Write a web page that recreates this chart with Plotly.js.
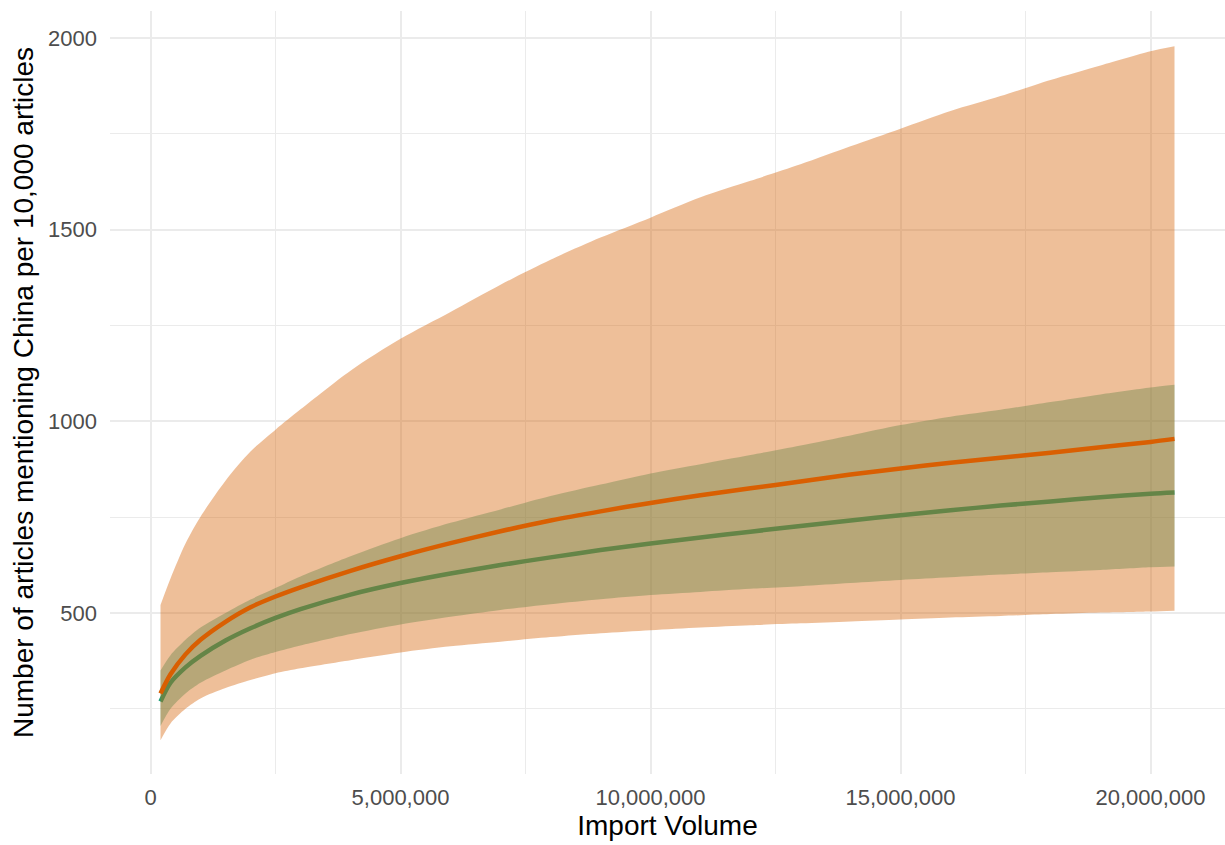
<!DOCTYPE html>
<html>
<head>
<meta charset="utf-8">
<script src="https://cdn.plot.ly/plotly-3.0.1.min.js"></script>
<style>html,body{margin:0;padding:0;background:#fff;}#chart{width:1225px;height:845px;}</style>
</head>
<body>
<div id="chart"></div>
<script>
// Import volume (x values, units)
const importVolume = [0.2e6, 0.4e6, 0.7e6, 1.0e6, 1.5e6, 2.0e6, 2.5e6, 3.0e6, 4.0e6, 5.0e6, 6.0e6, 7.0e6, 8.0e6, 9.0e6, 10.0e6, 11.0e6, 12.0e6, 13.0e6, 14.0e6, 15.0e6, 16.0e6, 17.0e6, 18.0e6, 19.0e6, 20.0e6, 20.48e6];

// Teal series (fit + interval)
const tealFit   = [269, 318, 358, 388, 428, 460, 487, 510, 548, 578, 603, 625, 645, 664, 681, 697, 712, 727, 741, 755, 768, 780, 791, 802, 811, 814];
const tealLower = [205, 250, 290, 318, 350, 378, 398, 415, 445, 470, 490, 508, 523, 536, 547, 555, 563, 570, 578, 586, 593, 600, 606, 612, 619, 621];
const tealUpper = [350, 390, 430, 462, 500, 535, 565, 595, 648, 695, 735, 770, 805, 835, 864, 888, 912, 937, 963, 990, 1012, 1030, 1050, 1070, 1088, 1095];

// Orange series (fit + interval)
const orangeFit   = [290, 340, 392, 430, 477, 515, 543, 567, 610, 648, 682, 713, 741, 765, 787, 807, 825, 843, 861, 877, 892, 905, 918, 932, 946, 954];
const orangeLower = [168, 212, 250, 277, 304, 325, 343, 356, 377, 397, 413, 425, 437, 447, 455, 462, 468, 473, 478, 483, 488, 492, 497, 501, 504, 506];
const orangeUpper = [521, 590, 681, 751, 845, 921, 978, 1031, 1132, 1215, 1285, 1356, 1421, 1479, 1531, 1584, 1627, 1670, 1717, 1763, 1809, 1848, 1890, 1928, 1965, 1978];

const xTitle = "Import Volume";
const yTitle = "Number of articles mentioning China per 10,000 articles";

const smooth = {shape: 'spline', smoothing: 0.8};

const traces = [
  {x: importVolume, y: tealLower, type: 'scatter', mode: 'lines',
   line: Object.assign({width: 0, color: 'rgba(0,0,0,0)'}, smooth), hoverinfo: 'skip', showlegend: false},
  {x: importVolume, y: tealUpper, type: 'scatter', mode: 'lines', fill: 'tonexty',
   fillcolor: 'rgba(27,158,119,0.4)', line: Object.assign({width: 0, color: 'rgba(0,0,0,0)'}, smooth), hoverinfo: 'skip', showlegend: false},
  {x: importVolume, y: tealFit, type: 'scatter', mode: 'lines',
   line: Object.assign({color: '#1B9E77', width: 4.5}, smooth), showlegend: false},
  {x: importVolume, y: orangeLower, type: 'scatter', mode: 'lines',
   line: Object.assign({width: 0, color: 'rgba(0,0,0,0)'}, smooth), hoverinfo: 'skip', showlegend: false},
  {x: importVolume, y: orangeUpper, type: 'scatter', mode: 'lines', fill: 'tonexty',
   fillcolor: 'rgba(213,94,0,0.4)', line: Object.assign({width: 0, color: 'rgba(0,0,0,0)'}, smooth), hoverinfo: 'skip', showlegend: false},
  {x: importVolume, y: orangeFit, type: 'scatter', mode: 'lines',
   line: Object.assign({color: '#D95F02', width: 4.5}, smooth), showlegend: false}
];

const fam = 'Liberation Sans, Arial, sans-serif';

const layout = {
  width: 1225, height: 845,
  margin: {l: 110, r: 0, t: 11, b: 71, pad: 0},
  paper_bgcolor: '#ffffff', plot_bgcolor: '#ffffff',
  font: {family: fam, size: 22, color: '#4D4D4D'},
  showlegend: false,
  xaxis: {
    range: [-0.81e6, 21.49e6],
    tick0: 0, dtick: 5e6, tickformat: ',d',
    showgrid: true, gridcolor: '#EBEBEB', gridwidth: 2,
    minor: {tick0: 0, dtick: 2.5e6, showgrid: true, gridcolor: '#EBEBEB', gridwidth: 1.2},
    zeroline: false, showline: false, ticks: '',
    tickfont: {family: fam, size: 22, color: '#4D4D4D'},
    ticklabelstandoff: 8,
    title: {text: xTitle, font: {family: fam, size: 28, color: '#000000'}, standoff: 6},
    automargin: false
  },
  yaxis: {
    range: [80, 2070],
    tick0: 0, dtick: 500,
    showgrid: true, gridcolor: '#EBEBEB', gridwidth: 2,
    minor: {tick0: 0, dtick: 250, showgrid: true, gridcolor: '#EBEBEB', gridwidth: 1.2},
    zeroline: false, showline: false, ticks: '',
    tickfont: {family: fam, size: 22, color: '#4D4D4D'},
    ticklabelstandoff: 12,
    title: {text: yTitle, font: {family: fam, size: 28, color: '#000000'}, standoff: 6},
    automargin: false
  }
};

Plotly.newPlot('chart', traces, layout, {displayModeBar: false, staticPlot: true});
</script>
</body>
</html>
